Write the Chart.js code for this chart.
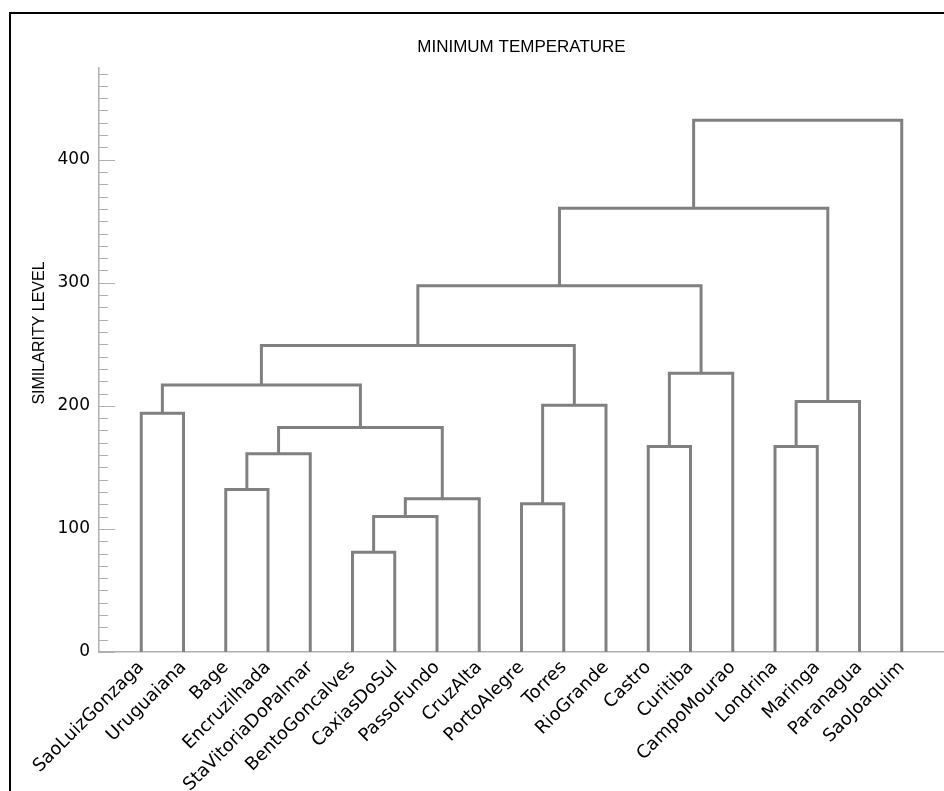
<!DOCTYPE html>
<html>
<head>
<meta charset="utf-8">
<script src="https://cdn.jsdelivr.net/npm/chart.js@4.4.1/dist/chart.umd.min.js"></script>
<style>
  body { margin: 0; background: #fff; }
  canvas { display: block; }
</style>
</head>
<body>
<canvas id="dendro" width="944" height="791"></canvas>
<script>
// leaves in the order they appear along the axis
const leafNames = ["SaoLuizGonzaga", "Uruguaiana", "Bage", "Encruzilhada", "StaVitoriaDoPalmar",
  "BentoGoncalves", "CaxiasDoSul", "PassoFundo", "CruzAlta", "PortoAlegre", "Torres", "RioGrande",
  "Castro", "Curitiba", "CampoMourao", "Londrina", "Maringa", "Paranagua", "SaoJoaquim"];

// merges: node ids 0..18 are leaves, merge k creates node 19 + k
const mergeLeft   = [0, 2, 20, 5, 22, 23, 21, 19, 9, 27, 26, 12, 30, 29, 15, 33, 32, 35];
const mergeRight  = [1, 3, 4, 6, 7, 8, 24, 25, 10, 11, 28, 13, 14, 31, 16, 17, 34, 18];
const mergeHeight = [194, 132, 161, 81, 110, 124.5, 182.5, 217, 120.5, 200.5, 249, 167, 226.5, 297.5, 167, 203.5, 360.5, 432];

const yTickValues = [0, 100, 200, 300, 400];

const lineColor = "#808080";
const axisColor = "#b0b0b0";

// work out where each node sits
const pos = leafNames.map((_, i) => i);
const height = leafNames.map(() => 0);
const datasets = [];
mergeHeight.forEach((h, k) => {
    const l = mergeLeft[k], r = mergeRight[k];
    datasets.push({
        data: [
            { x: pos[l], y: height[l] },
            { x: pos[l], y: h },
            { x: pos[r], y: h },
            { x: pos[r], y: height[r] }
        ],
        borderColor: lineColor,
        borderWidth: 3,
        borderJoinStyle: "miter",
        pointRadius: 0,
        fill: false,
        tension: 0
    });
    pos.push((pos[l] + pos[r]) / 2);
    height.push(h);
});

const framePlugin = {
    id: "frame",
    beforeDraw(chart) {
        const c = chart.ctx;
        c.save();
        c.fillStyle = "#fff";
        c.fillRect(0, 0, chart.width, chart.height);
        c.strokeStyle = "#000";
        c.lineWidth = 2;
        c.beginPath();
        c.moveTo(10, chart.height);
        c.lineTo(10, 13);
        c.lineTo(chart.width, 13);
        c.stroke();
        c.restore();
    },
    afterDraw(chart) {
        const c = chart.ctx;
        const y = chart.scales.y;
        const x0 = chart.chartArea.left;
        c.save();
        // inward tick marks, minor every 10
        c.strokeStyle = axisColor;
        c.lineWidth = 1;
        for (let v = 0; v <= 470; v += 10) {
            const py = Math.round(y.getPixelForValue(v)) + 0.5;
            const len = yTickValues.includes(v) ? 16 : 9;
            c.beginPath();
            c.moveTo(x0, py);
            c.lineTo(x0 + len, py);
            c.stroke();
        }
        // axis title
        c.fillStyle = "#000";
        c.font = "16px 'Liberation Sans'";
        c.textAlign = "center";
        c.textBaseline = "middle";
        c.translate(40, 333);
        c.rotate(-Math.PI / 2);
        c.fillText("SIMILARITY LEVEL", 0, 0);
        c.restore();
    }
};

new Chart(document.getElementById("dendro"), {
    type: "line",
    data: { datasets: datasets },
    options: {
        responsive: false,
        animation: false,
        layout: { padding: { left: 0, right: 0, top: 0, bottom: 0 } },
        plugins: {
            legend: { display: false },
            tooltip: { enabled: false },
            title: {
                display: true,
                text: "MINIMUM TEMPERATURE",
                color: "#000",
                fullSize: false,
                font: { family: "'Liberation Sans'", size: 17, weight: "normal", lineHeight: 1.2 },
                padding: { top: 37, bottom: 10 }
            }
        },
        scales: {
            x: {
                type: "linear",
                min: -1,
                max: 19,
                grid: { display: false },
                border: { display: true, color: axisColor, width: 1.5 },
                ticks: {
                    stepSize: 1,
                    autoSkip: false,
                    minRotation: 45,
                    maxRotation: 45,
                    padding: -3,
                    color: "#000",
                    font: { family: "'DejaVu Sans'", size: 18 },
                    callback: v => leafNames[v] || ""
                },
                afterFit(s) { s.height = 139; s.paddingLeft = 0; s.paddingRight = 0; }
            },
            y: {
                min: 0,
                max: 475,
                grid: { display: false },
                border: { display: true, color: axisColor, width: 1.5 },
                ticks: {
                    stepSize: 100,
                    includeBounds: false,
                    padding: 1,
                    color: "#000",
                    font: { family: "'DejaVu Sans'", size: 17 }
                },
                afterFit(s) { s.width = 99; s.paddingTop = 0; s.paddingBottom = 0; }
            }
        }
    },
    plugins: [framePlugin]
});
</script>
</body>
</html>
